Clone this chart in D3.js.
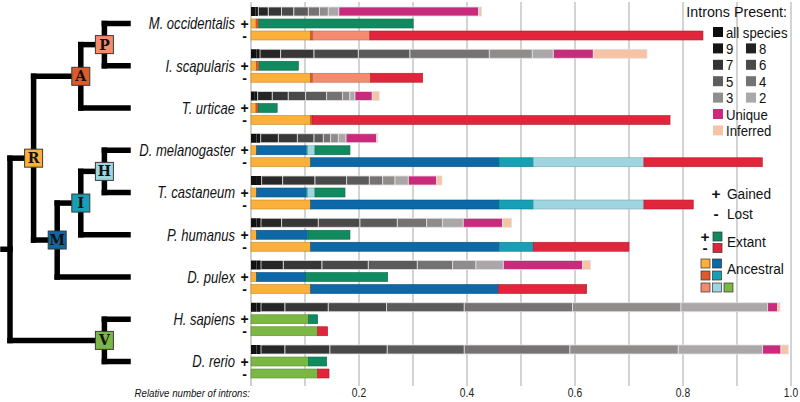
<!DOCTYPE html>
<html><head><meta charset="utf-8">
<script src="https://cdn.jsdelivr.net/npm/d3@7"></script>
<style>body{margin:0;background:#fff}svg{display:block;font-family:"Liberation Sans",Arial,sans-serif}</style>
</head><body><svg id="c" width="800" height="402"></svg>
<script>
// ---------- DATA ----------
const species = ["M. occidentalis","I. scapularis","T. urticae","D. melanogaster","T. castaneum","P. humanus","D. pulex","H. sapiens","D. rerio"];
const presentCats = ["all species","9","8","7","6","5","4","3","2","Unique","Inferred"];
const presAll  = [0.008, 0.010, 0.007, 0.010, 0.011, 0.010, 0.010, 0.010, 0.010];
const pres9    = [0.0055,0.0067,0.0054,0.008, 0.0088,0.0085,0.0085,0.0085,0.0085];
const pres8    = [0.0185,0.0383,0.027, 0.0326,0.0389,0.0383,0.0413,0.0444,0.0444];
const pres7    = [0.0246,0.0617,0.0296,0.0352,0.0598,0.0678,0.0717,0.0802,0.0833];
const pres6    = [0.0228,0.082, 0.0322,0.0309,0.0587,0.0772,0.0857,0.1081,0.1061];
const pres5    = [0.0267,0.0957,0.0389,0.0172,0.0419,0.0691,0.0907,0.1437,0.1426];
const pres4    = [0.0209,0.1469,0.0296,0.0137,0.0248,0.0544,0.0656,0.2007,0.1957];
const pres3    = [0.0161,0.0796,0.0135,0.0141,0.0228,0.0296,0.0431,0.2006,0.2006];
const pres2    = [0.0196,0.0389,0.0093,0.0143,0.0246,0.0381,0.0506,0.1606,0.1563];
const presUnique   = [0.2587,0.0741,0.032, 0.0569,0.0526,0.073, 0.147, 0.0185,0.0339];
const presInferred = [0.0056,0.0994,0.013, 0.002, 0.0098,0.0167,0.0148,0.0043,0.0135];

const nodeCats = ["R","A","P","M","I","H","V","extant"];
const gainR = [0.0095,0.0105,0.0093,0.0105,0.0105,0.0105,0.0105,0,0];
const gainA = [0.004, 0.004, 0.004, 0,0,0,0,0,0];
const gainP = [0.001, 0.0005, 0, 0,0,0,0,0,0];
const gainM = [0,0,0,0.0914,0.0914,0.0932,0.0907,0,0];
const gainI = [0,0,0,0.003,0.003,0.002,0,0,0];
const gainH = [0,0,0,0.0136,0.0136,0,0,0,0];
const gainV = [0,0,0,0,0,0,0,0.1062,0.1062];
const gainExtant = [0.2858,0.0728,0.0352,0.0648,0.0556,0.0776,0.152,0.0173,0.034];

const lossR = [0.1105,0.1105,0.1105,0.1105,0.1105,0.1105,0.1105,0,0];
const lossA = [0.004,0.0037,0.003,0,0,0,0,0,0];
const lossP = [0.1056,0.1074,0,0,0,0,0,0,0];
const lossM = [0,0,0,0.3487,0.3487,0.3487,0.3475,0,0];
const lossI = [0,0,0,0.0635,0.0635,0.0635,0,0,0];
const lossH = [0,0,0,0.205,0.205,0,0,0,0];
const lossV = [0,0,0,0,0,0,0,0.1235,0.1235];
const lossExtant = [0.6169,0.0964,0.6625,0.2192,0.0913,0.1773,0.1637,0.0185,0.021];

const tickValues = [0.2,0.4,0.6,0.8,1.0];
const tickLabels = ["0.2","0.4","0.6","0.8","1.0"];
const gridValues = [0,0.1,0.2,0.3,0.4,0.5,0.6,0.7,0.8,0.9,1.0];

const tree = {name:"root",children:[
  {name:"R",children:[
    {name:"A",children:[
      {name:"P",children:[{name:"M. occidentalis"},{name:"I. scapularis"}]},
      {name:"T. urticae"}]},
    {name:"M",children:[
      {name:"I",children:[
        {name:"H",children:[{name:"D. melanogaster"},{name:"T. castaneum"}]},
        {name:"P. humanus"}]},
      {name:"D. pulex"}]}]},
  {name:"V",children:[{name:"H. sapiens"},{name:"D. rerio"}]}]};

// ---------- STYLE ----------
const presentColors = ["#111111","#141414","#262626","#373737","#494949","#5c5b5b","#747272","#8f8c8c","#aba7a8","#c92a7c","#f7c3a5"];
const legendColors  = ["#0d0d0d","#151515","#222222","#333333","#4a4a4a","#5e5e5e","#737373","#8e8e8e","#a9a9a9","#c92a7c","#f7c3a5"];
const nodeColors = {R:"#fbb03b",A:"#e0592a",P:"#f58b6e",M:"#0c68a6",I:"#169fb5",H:"#9fd5de",V:"#7ab744",extant:null};
const gainColor = "#118a5f", lossColor = "#e1263c";

const svg = d3.select("#c");
const x = d3.scaleLinear().domain([0,1]).range([251,791]);
const row = d3.scaleLinear().domain([0,species.length-1]).range([7,345]);
const sub = d3.scaleBand().domain(["present","gained","lost"]).range([0,33]).paddingInner(0.25);
const bh = sub.bandwidth();

function narrow(sel,f){sel.each(function(){const l=this.getComputedTextLength();this.setAttribute("textLength",l*f);this.setAttribute("lengthAdjust","spacingAndGlyphs");});}

// gridlines
svg.append("g").selectAll("line").data(gridValues).join("line")
  .attr("x1",d=>x(d)).attr("x2",d=>x(d)).attr("y1",2).attr("y2",386)
  .attr("stroke",d=>d===0?"#c9c3b8":"#c8c8c8").attr("stroke-width",1.6);

// tables
const presentTable = species.map((s,i)=>{const vals=[presAll,pres9,pres8,pres7,pres6,pres5,pres4,pres3,pres2,presUnique,presInferred];const o={i};presentCats.forEach((c,k)=>o[c]=vals[k][i]);return o;});
const gainTable = species.map((s,i)=>{const vals=[gainR,gainA,gainP,gainM,gainI,gainH,gainV,gainExtant];const o={i};nodeCats.forEach((c,k)=>o[c]=vals[k][i]);return o;});
const lossTable = species.map((s,i)=>{const vals=[lossR,lossA,lossP,lossM,lossI,lossH,lossV,lossExtant];const o={i};nodeCats.forEach((c,k)=>o[c]=vals[k][i]);return o;});

function drawStack(table, keys, band, colorOf, strokeOf, swOf){
  const series = d3.stack().keys(keys)(table);
  const g = svg.append("g");
  series.forEach((s,k)=>{
    g.selectAll(null).data(s.filter(d=>d[1]-d[0]>0)).join("rect")
      .attr("x",d=>x(d[0])).attr("width",d=>x(d[1])-x(d[0]))
      .attr("y",d=>row(d.data.i)+sub(band)).attr("height",bh)
      .attr("fill",colorOf(s.key)).attr("stroke",strokeOf(s.key)).attr("stroke-width",swOf(s.key));
  });
}
drawStack(presentTable,presentCats,"present",k=>presentColors[presentCats.indexOf(k)],
  k=>(k==="all species"||k==="9")?"none":"#e2e2e2",k=>0.8);
drawStack(gainTable,nodeCats,"gained",k=>nodeColors[k]||gainColor,k=>d3.color(nodeColors[k]||gainColor).darker(0.7),k=>0.6);
drawStack(lossTable,nodeCats,"lost",k=>nodeColors[k]||lossColor,k=>d3.color(nodeColors[k]||lossColor).darker(0.7),k=>0.6);

// +/- signs
const signs = svg.append("g").attr("font-weight","bold").attr("font-size",14).attr("text-anchor","middle").attr("fill","#111");
species.forEach((s,i)=>{
  signs.append("text").attr("x",244.5).attr("y",row(i)+sub("gained")+bh/2).attr("dy","0.36em").text("+");
  signs.append("text").attr("x",244.5).attr("y",row(i)+sub("lost")+bh/2).attr("dy","0.36em").text("-");
});

// species labels
svg.append("g").selectAll("text").data(species).join("text")
  .attr("x",235).attr("y",(d,i)=>row(i)+sub("gained")+bh/2).attr("dy","0.36em")
  .attr("text-anchor","end").attr("font-style","italic").attr("font-size",16.5).attr("fill","#111")
  .text(d=>d).call(narrow,0.79);

// tree
const root = d3.hierarchy(tree);
const tx = d3.scaleLinear().domain([0,root.height]).range([128,10]);
root.eachAfter(n=>{
  if(!n.children){n.yy=row(species.indexOf(n.data.name))+sub("gained")+bh/2;}
  else{n.yy=(n.children[0].yy+n.children[n.children.length-1].yy)/2;}
  n.xx=tx(n.height);
});
const tg = svg.append("g").attr("stroke","#000").attr("stroke-width",5.5).attr("fill","none").attr("stroke-linecap","square");
root.descendants().filter(n=>n.children).forEach(n=>{
  const ys=n.children.map(c=>c.yy);
  tg.append("line").attr("x1",n.xx).attr("x2",n.xx).attr("y1",d3.min(ys)).attr("y2",d3.max(ys));
  n.children.forEach(c=>{
    tg.append("line").attr("x1",n.xx).attr("x2",c.children?c.xx:tx(0)).attr("y1",c.yy).attr("y2",c.yy);
  });
});
tg.append("line").attr("x1",3).attr("x2",root.xx).attr("y1",root.yy).attr("y2",root.yy);
const inner = root.descendants().filter(n=>n.children&&n.parent);
const bx = svg.append("g");
inner.forEach(n=>{
  bx.append("rect").attr("x",n.xx-9).attr("y",n.yy-9).attr("width",18).attr("height",18)
    .attr("fill",nodeColors[n.data.name]).attr("stroke","#3a3a3a").attr("stroke-width",1);
  bx.append("text").attr("x",n.xx).attr("y",n.yy).attr("dy","0.36em").attr("text-anchor","middle")
    .attr("font-family","'DejaVu Serif','Liberation Serif',serif").attr("font-weight","bold").attr("font-size",14)
    .attr("fill","#111").text(n.data.name);
});

// axis labels
svg.append("g").selectAll("text").data(tickValues).join("text")
  .attr("x",d=>x(d)).attr("y",393).attr("dy","0.35em").attr("text-anchor","middle")
  .attr("font-size",12.5).attr("fill","#222").text((d,i)=>tickLabels[i]).call(narrow,0.82);
svg.append("text").attr("x",250).attr("y",393).attr("dy","0.35em").attr("text-anchor","end")
  .attr("font-style","italic").attr("font-size",11.5).attr("fill","#111").text("Relative number of introns:").call(narrow,0.84);

// legend
const lg = svg.append("g").attr("font-size",15.5).attr("fill","#111");
lg.append("text").attr("x",787).attr("y",12).attr("dy","0.35em").attr("text-anchor","end").text("Introns Present:").call(narrow,0.92);
const legRows = [[["all species",0]],[["9",1],["8",2]],[["7",3],["6",4]],[["5",5],["4",6]],[["3",7],["2",8]],[["Unique",9]],[["Inferred",10]]];
legRows.forEach((r,ri)=>{
  const cy = 32 + ri*16.4;
  r.forEach(([lab,ci],ki)=>{
    const sx = 713 + ki*33;
    lg.append("rect").attr("x",sx).attr("y",cy-5).attr("width",10).attr("height",10).attr("fill",legendColors[ci]);
    lg.append("text").attr("x",sx+13).attr("y",cy).attr("dy","0.36em").text(lab).call(narrow,0.85);
  });
});
lg.append("text").attr("x",716).attr("y",193).attr("dy","0.36em").attr("text-anchor","middle").attr("font-weight","bold").text("+");
lg.append("text").attr("x",727).attr("y",193).attr("dy","0.36em").text("Gained").call(narrow,0.88);
lg.append("text").attr("x",716).attr("y",213).attr("dy","0.36em").attr("text-anchor","middle").attr("font-weight","bold").text("-");
lg.append("text").attr("x",727).attr("y",213).attr("dy","0.36em").text("Lost").call(narrow,0.88);
lg.append("text").attr("x",705).attr("y",236).attr("dy","0.36em").attr("text-anchor","middle").attr("font-weight","bold").text("+");
lg.append("text").attr("x",705).attr("y",247).attr("dy","0.36em").attr("text-anchor","middle").attr("font-weight","bold").text("-");
lg.append("rect").attr("x",713).attr("y",232).attr("width",9).attr("height",9).attr("fill",gainColor).attr("stroke","#333").attr("stroke-width",0.7);
lg.append("rect").attr("x",713).attr("y",243.5).attr("width",9).attr("height",9).attr("fill",lossColor).attr("stroke","#333").attr("stroke-width",0.7);
lg.append("text").attr("x",727).attr("y",241).attr("dy","0.36em").text("Extant").call(narrow,0.88);
const anc = [["R",0,0],["M",1,0],["A",0,1],["I",1,1],["P",0,2],["H",1,2],["V",2,2]];
anc.forEach(([k,c,r])=>{
  lg.append("rect").attr("x",701+c*11.5).attr("y",259+r*12).attr("width",9).attr("height",9)
    .attr("fill",nodeColors[k]).attr("stroke","#333").attr("stroke-width",0.7);
});
lg.append("text").attr("x",727).attr("y",268).attr("dy","0.36em").text("Ancestral").call(narrow,0.88);
</script></body></html>
